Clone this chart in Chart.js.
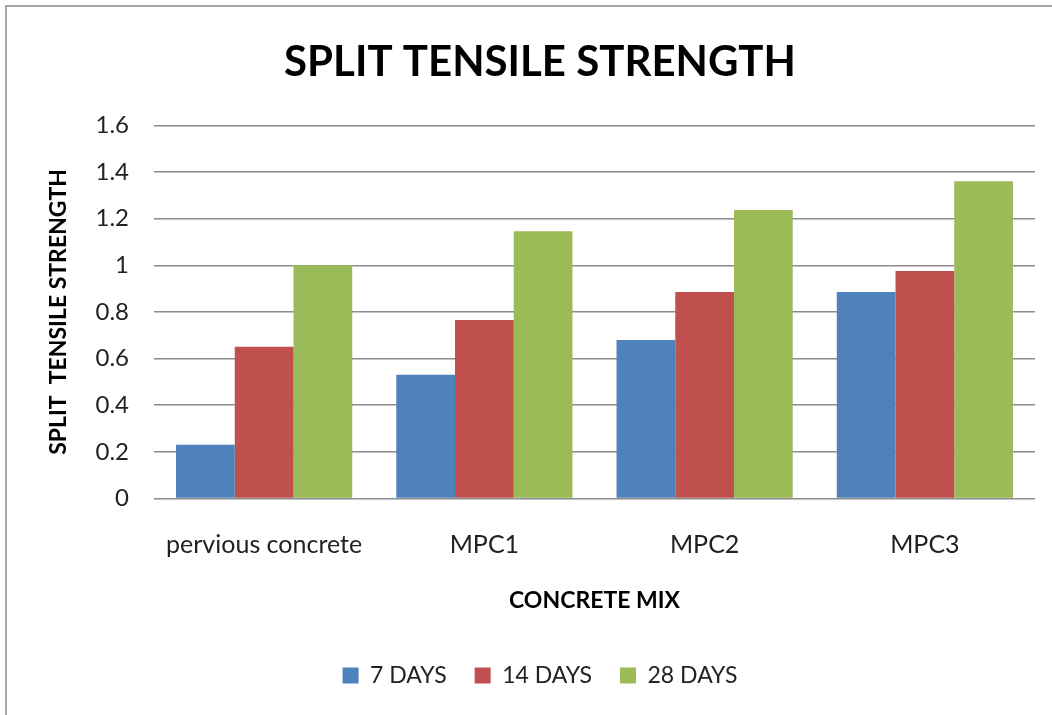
<html>
    <head>
        <meta charset="utf-8">
        <title>Split Tensile Strength</title>
        <script src="https://cdn.jsdelivr.net/npm/chart.js@4.4.0/dist/chart.umd.min.js"></script>
        <style type="text/css">
            body {
                margin: 0;
                background: #ffffff;
            }
            #wrap {
                position: relative;
                width: 1052px;
                height: 715px;
            }
            #frame {
                position: absolute;
                left: 5px;
                top: 5px;
                right: 0;
                bottom: 0;
                border-top: 2px solid #a6a6a6;
                border-left: 2px solid #a6a6a6;
                pointer-events: none;
            }
        </style>
    </head>
    <body>
        <div id="wrap">
            <canvas id="strengthChart" width="1052" height="715"></canvas>
            <div id="frame"></div>
        </div>
        <script>
            // values
            var mixes = ['pervious concrete', 'MPC1', 'MPC2', 'MPC3'];
            var days7 = [0.23, 0.53, 0.68, 0.885];
            var days14 = [0.65, 0.765, 0.885, 0.975];
            var days28 = [1.0, 1.146, 1.237, 1.36];
            var yTicks = [0, 0.2, 0.4, 0.6, 0.8, 1, 1.2, 1.4, 1.6];

            var fontName = 'Lato, "Open Sans", sans-serif';

            var ctx = document.getElementById('strengthChart').getContext('2d');
            var strengthChart = new Chart(ctx, {
                type: 'bar',
                data: {
                    labels: mixes,
                    datasets: [
                        {label: '7 DAYS', data: days7, backgroundColor: '#4f81bd'},
                        {label: '14 DAYS', data: days14, backgroundColor: '#c0504d'},
                        {label: '28 DAYS', data: days28, backgroundColor: '#9bbb59'}
                    ]
                },
                options: {
                    responsive: false,
                    animation: false,
                    categoryPercentage: 0.8,
                    barPercentage: 1.0,
                    layout: {
                        padding: {top: 37, left: 45, right: 17, bottom: 18}
                    },
                    plugins: {
                        title: {
                            display: true,
                            text: 'SPLIT TENSILE STRENGTH',
                            color: '#000000',
                            font: {family: fontName, size: 42, weight: 'bold'},
                            padding: {top: 0, bottom: 38}
                        },
                        legend: {
                            position: 'bottom',
                            labels: {
                                color: '#222222',
                                font: {family: fontName, size: 23},
                                boxWidth: 16,
                                boxHeight: 16,
                                padding: 28
                            }
                        },
                        tooltip: {enabled: false}
                    },
                    scales: {
                        x: {
                            grid: {display: false},
                            border: {display: false},
                            ticks: {
                                color: '#222222',
                                font: {family: fontName, size: 25},
                                padding: 24
                            },
                            title: {
                                display: true,
                                text: 'CONCRETE MIX',
                                color: '#000000',
                                font: {family: fontName, size: 23, weight: 'bold'},
                                padding: {top: 2, bottom: 22}
                            }
                        },
                        y: {
                            min: 0,
                            max: 1.6,
                            afterBuildTicks: function(scale) {
                                scale.ticks = yTicks.map(function(v) { return {value: v}; });
                            },
                            afterFit: function(scale) {
                                scale.width = 109;
                            },
                            grid: {
                                color: '#8c8c8c',
                                lineWidth: 1.5,
                                drawTicks: false
                            },
                            border: {display: false},
                            ticks: {
                                color: '#222222',
                                font: {family: fontName, size: 24},
                                padding: 25,
                                callback: function(v) { return String(Math.round(v * 10) / 10); }
                            },
                            title: {
                                display: true,
                                text: 'SPLIT  TENSILE STRENGTH',
                                color: '#000000',
                                font: {family: fontName, size: 23, weight: 'bold'},
                                padding: {top: 0, bottom: 0}
                            }
                        }
                    }
                }
            });
        </script>
    </body>
</html>
